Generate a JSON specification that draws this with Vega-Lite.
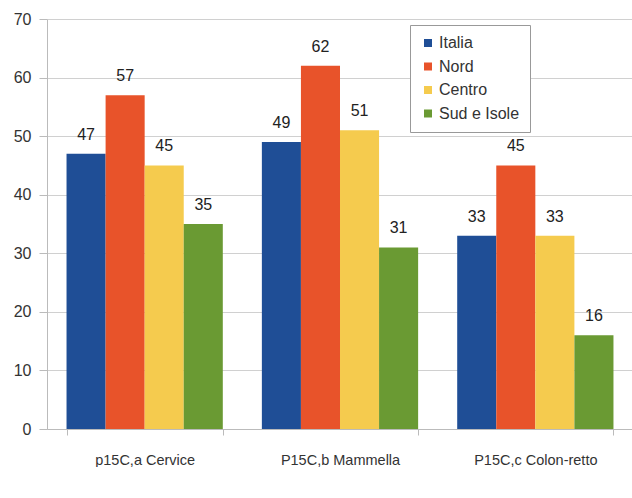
{
  "$schema": "https://vega.github.io/schema/vega-lite/v6.json",
  "width": 586,
  "height": 410,
  "padding": {"left": 13, "top": 11, "right": 0, "bottom": 0},
  "background": "white",
  "data": {"values": [
    {"cat": "p15C,a Cervice", "area": "Italia", "v": 47},
    {"cat": "p15C,a Cervice", "area": "Nord", "v": 57},
    {"cat": "p15C,a Cervice", "area": "Centro", "v": 45},
    {"cat": "p15C,a Cervice", "area": "Sud e Isole", "v": 35},
    {"cat": "P15C,b Mammella", "area": "Italia", "v": 49},
    {"cat": "P15C,b Mammella", "area": "Nord", "v": 62},
    {"cat": "P15C,b Mammella", "area": "Centro", "v": 51},
    {"cat": "P15C,b Mammella", "area": "Sud e Isole", "v": 31},
    {"cat": "P15C,c Colon-retto", "area": "Italia", "v": 33},
    {"cat": "P15C,c Colon-retto", "area": "Nord", "v": 45},
    {"cat": "P15C,c Colon-retto", "area": "Centro", "v": 33},
    {"cat": "P15C,c Colon-retto", "area": "Sud e Isole", "v": 16}
  ]},
  "config": {
    "font": "Liberation Sans",
    "view": {"stroke": null}
  },
  "encoding": {
    "x": {
      "field": "cat", "type": "nominal", "sort": null,
      "scale": {"paddingInner": 0.2, "paddingOuter": 0.1},
      "axis": {"title": null, "labelAngle": 0, "labelFontSize": 14.5, "labelColor": "#333", "labelPadding": 18, "tickBand": "extent", "tickSize": 6, "tickColor": "#bbb", "domainColor": "#bbb"}
    },
    "xOffset": {"field": "area", "sort": ["Italia", "Nord", "Centro", "Sud e Isole"], "scale": {"paddingInner": 0, "paddingOuter": 0}},
    "y": {
      "field": "v", "type": "quantitative",
      "scale": {"domain": [0, 70]},
      "axis": {"title": null, "values": [0,10,20,30,40,50,60,70], "labelFontSize": 16, "labelColor": "#333", "labelPadding": 8, "tickSize": 8, "tickColor": "#bbb", "domainColor": "#bbb", "gridColor": "#d0d0d0"}
    }
  },
  "layer": [
    {
      "mark": {"type": "bar"},
      "encoding": {
        "color": {
          "field": "area", "type": "nominal",
          "sort": ["Italia", "Nord", "Centro", "Sud e Isole"],
          "scale": {"domain": ["Italia", "Nord", "Centro", "Sud e Isole"], "range": ["#1F4E96", "#E8532A", "#F5CB4E", "#6A9A33"]},
          "legend": {
            "title": null, "orient": "none", "legendX": 363, "legendY": 6,
            "symbolType": "square", "symbolSize": 64, "symbolStrokeWidth": 0, "labelOffset": 3,
            "labelFontSize": 16, "labelColor": "#333", "rowPadding": 7.5,
            "strokeColor": "#999", "padding": 10, "fillColor": "white"
          }
        }
      }
    },
    {
      "mark": {"type": "text", "dy": -19, "fontSize": 16, "color": "#222"},
      "encoding": {"text": {"field": "v", "type": "quantitative"}}
    }
  ]
}
